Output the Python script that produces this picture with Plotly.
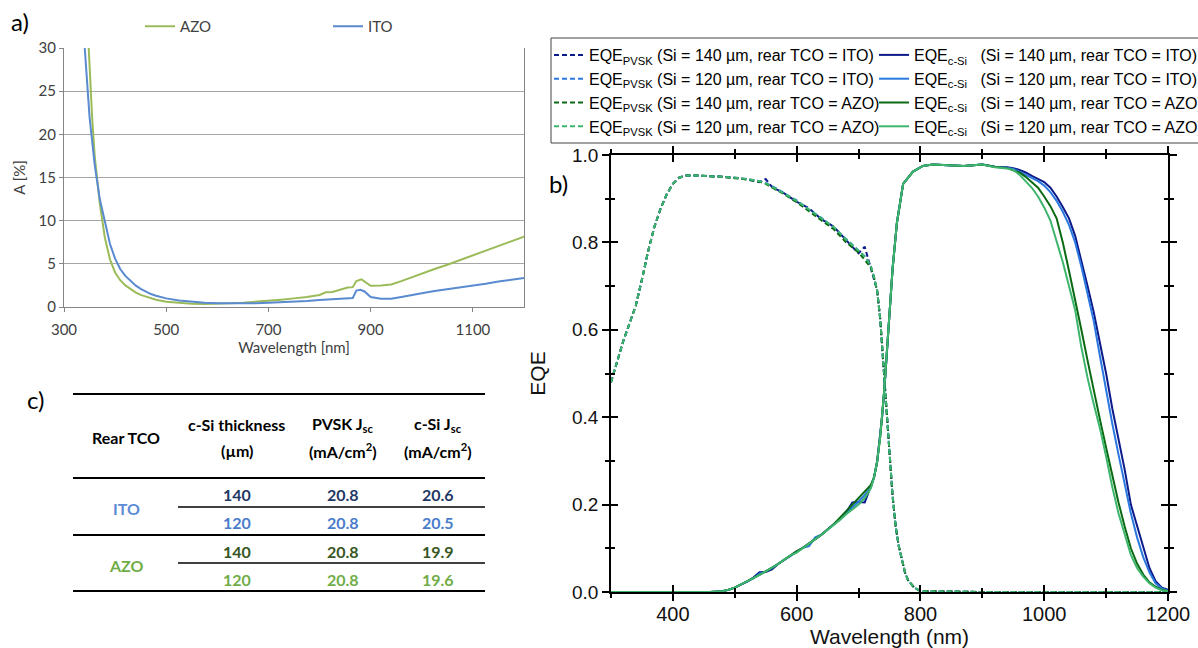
import plotly.graph_objects as go

W, H = 1198, 648
def px(x): return x / W
def py(y): return 1 - y / H

# ---------------- Panel a data: absorption of rear TCO ----------------
wl_ito = [330, 340, 350, 360, 370, 380, 390, 400, 410, 420, 430, 440, 450, 460, 470, 480, 500, 525, 550, 575, 600,
          625, 650, 675, 700, 725, 750, 775, 800, 825, 850, 865, 872, 880, 888, 900, 920, 940, 960, 980, 1000,
          1025, 1050, 1075, 1100, 1125, 1150, 1175, 1200]
a_ito = [45, 30.5, 22, 16.5, 12.5, 9.8, 7.3, 5.6, 4.4, 3.6, 3.0, 2.5, 2.1, 1.75, 1.5, 1.3, 1.0, 0.75, 0.6, 0.5, 0.42,
         0.4, 0.4, 0.42, 0.5, 0.55, 0.62, 0.7, 0.8, 0.9, 1.0, 1.05, 1.9, 2.0, 1.8, 1.15, 0.95, 0.95, 1.15, 1.4, 1.6,
         1.85, 2.05, 2.25, 2.45, 2.7, 2.95, 3.15, 3.35]
wl_azo = [340, 348, 355, 360, 370, 380, 390, 400, 410, 420, 430, 440, 450, 460, 470, 480, 500, 525, 550, 575, 600,
          625, 650, 675, 700, 725, 750, 775, 800, 812, 825, 840, 855, 865, 872, 882, 890, 900, 920, 940, 960, 980,
          1000, 1025, 1050, 1075, 1100, 1125, 1150, 1175, 1200]
a_azo = [40, 30, 22, 17.5, 12, 8, 5.5, 4.0, 3.1, 2.5, 2.05, 1.7, 1.4, 1.2, 1.0, 0.85, 0.6, 0.45, 0.38, 0.35, 0.37,
         0.42, 0.5, 0.6, 0.72, 0.85, 1.0, 1.15, 1.4, 1.7, 1.75, 2.0, 2.25, 2.3, 3.0, 3.2, 2.9, 2.45, 2.5, 2.6, 3.0, 3.45,
         3.9, 4.4, 4.9, 5.45, 6.0, 6.55, 7.1, 7.65, 8.15]

# ---------------- Panel b data: EQE ----------------
wl_pvsk = [300, 310, 320, 330, 340, 350, 360, 370, 380, 390, 400, 410, 420, 440, 460, 480, 500, 520, 540, 550,
           560, 580, 600, 620, 640, 660, 680, 700, 710, 715, 720, 725, 730, 735, 740, 745, 750, 755, 760, 765,
           770, 775, 780, 790, 800, 900, 1000, 1100, 1200]
pvsk_ito140 = [0.48, 0.53, 0.575, 0.615, 0.655, 0.715, 0.78, 0.835, 0.877, 0.91, 0.934, 0.948, 0.953, 0.953, 0.952,
               0.95, 0.948, 0.944, 0.938, 0.945, 0.927, 0.912, 0.893, 0.878, 0.853, 0.836, 0.805, 0.775, 0.79, 0.765,
               0.745, 0.72, 0.69, 0.625, 0.53, 0.43, 0.32, 0.22, 0.15, 0.105, 0.072, 0.045, 0.027, 0.01, 0.002,
               0.0, 0.0, 0.0, 0.0]
pvsk_ito120 = [0.48, 0.53, 0.575, 0.615, 0.655, 0.715, 0.78, 0.835, 0.877, 0.91, 0.934, 0.948, 0.953, 0.953, 0.952,
               0.95, 0.948, 0.945, 0.94, 0.936, 0.929, 0.913, 0.896, 0.875, 0.856, 0.834, 0.808, 0.781, 0.768, 0.758,
               0.745, 0.72, 0.69, 0.625, 0.53, 0.43, 0.32, 0.22, 0.15, 0.105, 0.072, 0.045, 0.027, 0.01, 0.002,
               0.0, 0.0, 0.0, 0.0]
pvsk_azo140 = [0.48, 0.53, 0.575, 0.615, 0.655, 0.715, 0.78, 0.835, 0.877, 0.91, 0.934, 0.948, 0.953, 0.953, 0.952,
               0.95, 0.947, 0.944, 0.939, 0.934, 0.926, 0.91, 0.892, 0.872, 0.85, 0.83, 0.8, 0.777, 0.76, 0.752,
               0.742, 0.72, 0.69, 0.625, 0.53, 0.43, 0.32, 0.22, 0.15, 0.105, 0.072, 0.045, 0.027, 0.01, 0.002,
               0.0, 0.0, 0.0, 0.0]
pvsk_azo120 = [0.48, 0.53, 0.575, 0.615, 0.655, 0.715, 0.78, 0.835, 0.877, 0.91, 0.934, 0.948, 0.953, 0.953, 0.952,
               0.95, 0.948, 0.945, 0.94, 0.935, 0.928, 0.912, 0.895, 0.875, 0.855, 0.835, 0.807, 0.78, 0.768, 0.758,
               0.745, 0.72, 0.69, 0.625, 0.53, 0.43, 0.32, 0.22, 0.15, 0.105, 0.072, 0.045, 0.027, 0.01, 0.002,
               0.0, 0.0, 0.0, 0.0]

wl_csi = [300, 400, 460, 480,
          490, 500, 510, 520, 530, 540, 550, 560, 570, 580, 590, 600, 610, 620, 630, 640, 650, 660, 670, 680,
          690, 700, 710, 720,
          725, 730, 735, 738, 742, 746, 750, 755, 762, 772, 788, 804, 820, 850, 870, 900, 920, 940,
          950, 960, 970, 980, 990, 1000, 1010, 1020, 1030, 1040, 1050, 1060, 1070, 1080, 1090, 1100, 1110,
          1120, 1130, 1140, 1150, 1160, 1170, 1180, 1190, 1200]
csi_ito140 = [0, 0, 0, 0.002,
              0.005, 0.01, 0.017, 0.024, 0.033, 0.045, 0.046, 0.052, 0.064, 0.074, 0.084, 0.093, 0.101, 0.11,
              0.121, 0.131, 0.142, 0.155, 0.168, 0.182, 0.205, 0.206, 0.205, 0.24,
              0.262, 0.298, 0.355, 0.40, 0.47, 0.555, 0.64, 0.74, 0.845, 0.934, 0.962, 0.975, 0.978, 0.976, 0.975,
              0.978, 0.973, 0.972,
              0.970, 0.966, 0.96, 0.952, 0.945, 0.938, 0.925, 0.905, 0.881, 0.855, 0.815, 0.76, 0.70, 0.64, 0.57,
              0.50, 0.42, 0.35, 0.28, 0.20, 0.15, 0.10, 0.055, 0.025, 0.01, 0.005]
csi_ito120 = [0, 0, 0, 0.002,
              0.005, 0.01, 0.017, 0.024, 0.031, 0.042, 0.047, 0.055, 0.064, 0.074, 0.084, 0.093, 0.101, 0.105,
              0.125, 0.131, 0.142, 0.155, 0.168, 0.18, 0.194, 0.207, 0.222, 0.24,
              0.262, 0.298, 0.355, 0.40, 0.47, 0.555, 0.64, 0.74, 0.845, 0.934, 0.962, 0.975, 0.978, 0.976, 0.975,
              0.978, 0.973, 0.971,
              0.968, 0.962, 0.955, 0.948, 0.94, 0.93, 0.915, 0.895, 0.87, 0.84, 0.80, 0.745, 0.685, 0.62, 0.54,
              0.46, 0.385, 0.315, 0.245, 0.18, 0.125, 0.08, 0.045, 0.02, 0.008, 0.003]
csi_azo140 = [0, 0, 0, 0.002,
              0.005, 0.01, 0.017, 0.024, 0.031, 0.039, 0.047, 0.055, 0.064, 0.074, 0.084, 0.093, 0.101, 0.11,
              0.121, 0.131, 0.142, 0.155, 0.17, 0.185, 0.2, 0.215, 0.232, 0.245,
              0.262, 0.298, 0.355, 0.40, 0.47, 0.555, 0.64, 0.74, 0.845, 0.934, 0.962, 0.975, 0.978, 0.976, 0.975,
              0.978, 0.973, 0.97,
              0.965, 0.96, 0.95, 0.937, 0.925, 0.905, 0.883, 0.855, 0.80, 0.735, 0.67, 0.60, 0.53, 0.46, 0.395,
              0.33, 0.265, 0.205, 0.15, 0.10, 0.065, 0.04, 0.022, 0.012, 0.005, 0.002]
csi_azo120 = [0, 0, 0, 0.002,
              0.005, 0.01, 0.017, 0.024, 0.031, 0.039, 0.047, 0.055, 0.064, 0.074, 0.084, 0.09, 0.101, 0.11,
              0.121, 0.131, 0.142, 0.152, 0.165, 0.178, 0.19, 0.2, 0.215, 0.238,
              0.262, 0.298, 0.355, 0.40, 0.47, 0.555, 0.64, 0.74, 0.845, 0.934, 0.962, 0.975, 0.978, 0.976, 0.975,
              0.978, 0.972, 0.969,
              0.966, 0.955, 0.94, 0.925, 0.905, 0.88, 0.85, 0.805, 0.755, 0.70, 0.645, 0.56, 0.49, 0.43, 0.375,
              0.31, 0.24, 0.18, 0.13, 0.085, 0.055, 0.035, 0.02, 0.01, 0.004, 0.002]

series_names = ["(Si = 140 \u00b5m, rear TCO = ITO)", "(Si = 120 \u00b5m, rear TCO = ITO)",
                "(Si = 140 \u00b5m, rear TCO = AZO)", "(Si = 120 \u00b5m, rear TCO = AZO)"]
series_colors = ["#0c1a8a", "#2a78e0", "#0a6a12", "#3db56c"]

# ---------------- Panel c data: table ----------------
tco_labels = ["ITO", "AZO"]
tco_label_colors = ["#5b8bd6", "#70ad47"]
thickness = ["140", "120", "140", "120"]
pvsk_jsc = ["20.8", "20.8", "20.8", "20.8"]
csi_jsc = ["20.6", "20.5", "19.9", "19.6"]
row_colors = ["#1f3864", "#4a7cca", "#375623", "#70ad47"]

fig = go.Figure()

# Panel a traces
fig.add_trace(go.Scatter(x=wl_azo, y=a_azo, mode="lines", name="AZO", line=dict(color="#9bbb59", width=2),
                         xaxis="x", yaxis="y", legend="legend"))
fig.add_trace(go.Scatter(x=wl_ito, y=a_ito, mode="lines", name="ITO", line=dict(color="#5a8ad0", width=2),
                         xaxis="x", yaxis="y", legend="legend"))

# Panel b traces
pvsk = [pvsk_ito140, pvsk_ito120, pvsk_azo140, pvsk_azo120]
csi = [csi_ito140, csi_ito120, csi_azo140, csi_azo120]
for vals, nm, col in zip(pvsk, series_names, series_colors):
    fig.add_trace(go.Scatter(x=wl_pvsk, y=vals, mode="lines", name="EQE<sub>PVSK</sub> " + nm,
                             line=dict(color=col, width=2, dash="5px,3px"), xaxis="x2", yaxis="y2",
                             legend="legend2"))
for vals, nm, col in zip(csi, series_names, series_colors):
    fig.add_trace(go.Scatter(x=wl_csi, y=vals, mode="lines", name="EQE<sub>c-Si</sub>\u00a0\u00a0 " + nm,
                             line=dict(color=col, width=2), xaxis="x2", yaxis="y2", legend="legend3"))
# helper (empty) trace so the overlay tick axes are drawn
fig.add_trace(go.Scatter(x=[], y=[], xaxis="x3", yaxis="y3", showlegend=False))

excel_font = "Lato"
arial = "Liberation Sans"

fig.update_layout(
    width=W, height=H, margin=dict(l=0, r=0, t=0, b=0, autoexpand=False),
    paper_bgcolor="white", plot_bgcolor="white",
    xaxis=dict(domain=[px(64), px(524)], range=[300, 1200], tickmode="array",
               tickvals=[300, 500, 700, 900, 1100], ticks="outside", ticklen=4, tickcolor="#868686",
               showline=True, linecolor="#868686", linewidth=1, showgrid=False, zeroline=False,
               tickfont=dict(family=excel_font, size=15, color="#404040"), ticklabelstandoff=5,
               title=dict(text="Wavelength [nm]", font=dict(family=excel_font, size=15, color="#404040"),
                          standoff=3), anchor="y"),
    yaxis=dict(domain=[py(307), py(48)], range=[0, 30], dtick=5, ticks="outside", ticklen=4, tickcolor="#868686",
               showline=True, linecolor="#868686", linewidth=1, mirror=True, showgrid=True,
               gridcolor="#a6a6a6", gridwidth=1, zeroline=False,
               tickfont=dict(family=excel_font, size=15, color="#404040"),
               title=dict(text="A [%]", font=dict(family=excel_font, size=15, color="#404040"), standoff=9),
               anchor="x"),
    xaxis2=dict(domain=[px(611), px(1168)], range=[300, 1200], tickmode="linear", tick0=400, dtick=200,
                ticks="outside", ticklen=7, tickwidth=1.5, tickcolor="black",
                minor=dict(ticks="outside", ticklen=4, tickwidth=1.5, tickcolor="black", tick0=300, dtick=100),
                showline=True, linecolor="black", linewidth=1.5, mirror="ticks", showgrid=False, zeroline=False,
                tickfont=dict(family=arial, size=20, color="#111"), ticklabelstandoff=-4,
                title=dict(text="Wavelength (nm)", font=dict(family=arial, size=21, color="#111"), standoff=13),
                anchor="y2"),
    yaxis2=dict(domain=[py(592), py(155)], range=[0, 1], tickmode="linear", tick0=0, dtick=0.2,
                tickformat=".1f", ticks="outside", ticklen=7, tickwidth=1.5, tickcolor="black",
                minor=dict(ticks="outside", ticklen=4, tickwidth=1.5, tickcolor="black", dtick=0.1),
                showline=True, linecolor="black", linewidth=1.5, mirror="ticks", showgrid=False, zeroline=False,
                tickfont=dict(family=arial, size=19, color="#111"),
                title=dict(text="EQE", font=dict(family=arial, size=21, color="#111"), standoff=21),
                anchor="x2"),
    xaxis3=dict(overlaying="x2", range=[300, 1200], tickmode="linear", tick0=400, dtick=200,
                ticks="inside", ticklen=7, tickwidth=1.5, tickcolor="black",
                minor=dict(ticks="inside", ticklen=4, tickwidth=1.5, tickcolor="black", tick0=300, dtick=100),
                showline=False, mirror="ticks", showgrid=False, zeroline=False, showticklabels=False,
                anchor="y3"),
    yaxis3=dict(overlaying="y2", range=[0, 1], tickmode="linear", tick0=0, dtick=0.2,
                ticks="inside", ticklen=7, tickwidth=1.5, tickcolor="black",
                minor=dict(ticks="inside", ticklen=4, tickwidth=1.5, tickcolor="black", dtick=0.1),
                showline=False, mirror="ticks", showgrid=False, zeroline=False, showticklabels=False,
                anchor="x3"),
    legend=dict(orientation="h", x=px(140), y=py(10), xanchor="left", yanchor="top",
                entrywidth=143, entrywidthmode="pixels", bgcolor="rgba(0,0,0,0)",
                font=dict(family=excel_font, size=15, color="#404040")),
    legend2=dict(orientation="v", x=px(549), y=py(38), xanchor="left", yanchor="top", tracegroupgap=0,
                 bgcolor="rgba(0,0,0,0)", font=dict(family=arial, size=16, color="black"), itemwidth=30),
    legend3=dict(orientation="v", x=px(874), y=py(38), xanchor="left", yanchor="top", tracegroupgap=0,
                 bgcolor="rgba(0,0,0,0)", font=dict(family=arial, size=16, color="black"), itemwidth=30),
)

shapes = []
annotations = []
# legend box for panel b
shapes.append(dict(type="rect", xref="paper", yref="paper", x0=px(551), x1=px(1199), y0=py(143), y1=py(38),
                   line=dict(color="#444", width=1)))

# panel labels
for txt, xx, yy in [("a)", 9, 21), ("b)", 547, 183), ("c)", 25, 399)]:
    annotations.append(dict(text=txt, x=px(xx), y=py(yy), xref="paper", yref="paper", xanchor="left",
                            yanchor="middle", showarrow=False, font=dict(family=excel_font, size=24, color="black")))

# table
col_x = [126, 237, 343, 438]
hdr_font = dict(family=excel_font, size=16, color="black")
def ann(text, x, y, font):
    annotations.append(dict(text=text, x=px(x), y=py(y), xref="paper", yref="paper", xanchor="center",
                            yanchor="middle", showarrow=False, font=font))
ann("<b>Rear TCO</b>", col_x[0], 437, hdr_font)
ann("<b>c-Si thickness</b>", col_x[1], 424, hdr_font)
ann("<b>(\u00b5m)</b>", col_x[1], 450, hdr_font)
ann("<b>PVSK J<sub>sc</sub></b>", col_x[2], 424, hdr_font)
ann("<b>(mA/cm<sup>2</sup>)</b>", col_x[2], 450, hdr_font)
ann("<b>c-Si J<sub>sc</sub></b>", col_x[3], 424, hdr_font)
ann("<b>(mA/cm<sup>2</sup>)</b>", col_x[3], 450, hdr_font)

row_y = [494, 522, 551, 579]
for i in range(4):
    f = dict(family=excel_font, size=16, color=row_colors[i])
    ann("<b>" + thickness[i] + "</b>", col_x[1], row_y[i], f)
    ann("<b>" + pvsk_jsc[i] + "</b>", col_x[2], row_y[i], f)
    ann("<b>" + csi_jsc[i] + "</b>", col_x[3], row_y[i], f)
for lab, col, yy in zip(tco_labels, tco_label_colors, [508, 565]):
    ann("<b>" + lab + "</b>", col_x[0], yy, dict(family=excel_font, size=16, color=col))

for yy, x0, w in [(394, 73, 2), (478, 73, 2), (507, 178, 1.5), (535, 73, 2), (563, 178, 1.5), (591, 73, 2)]:
    shapes.append(dict(type="line", xref="paper", yref="paper", x0=px(x0), x1=px(485), y0=py(yy), y1=py(yy),
                       line=dict(color="black", width=w)))

fig.update_layout(shapes=shapes, annotations=annotations)
# remove the browser's default 8px body margin so the figure starts at the page corner; hide the modebar
fig.write_html("out.html", config={"displayModeBar": False},
               post_script="document.body.style.margin='0px';")
